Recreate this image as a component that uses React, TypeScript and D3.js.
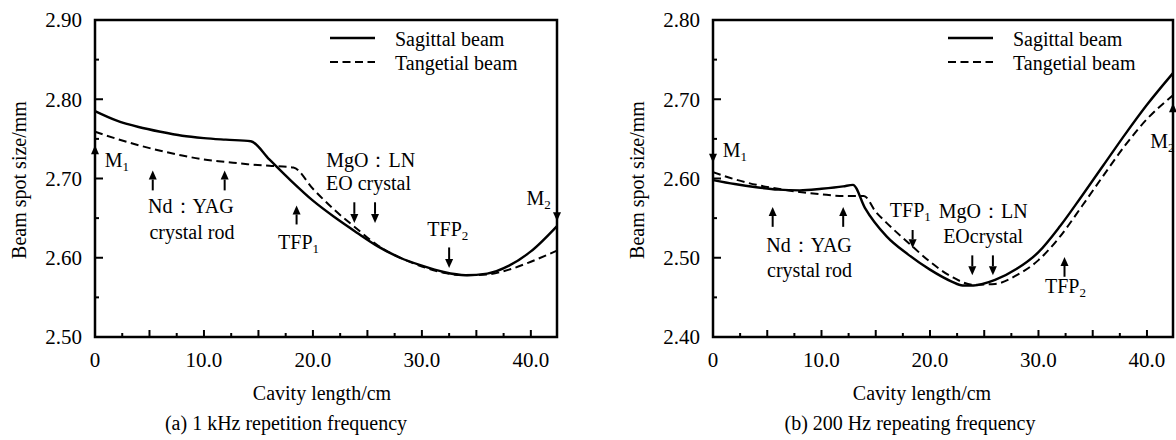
import * as d3 from 'd3'
import React from 'react'

// panel (a): 1 kHz
const cmA_sag = [0, 2, 4, 6, 8, 10, 12, 14.3, 16, 18, 20, 22, 24, 26, 28, 30, 32, 34, 36, 38, 40, 42.4]
const wA_sag = [2.785, 2.773, 2.765, 2.759, 2.754, 2.751, 2.749, 2.747, 2.724, 2.697, 2.672, 2.651, 2.632, 2.614, 2.600, 2.590, 2.582, 2.578, 2.580, 2.590, 2.608, 2.640]
const cmA_tan = [0, 2, 4, 6, 8, 10, 12, 14, 16, 18.2, 20, 22, 24, 26, 28, 30, 32, 34, 36, 38, 40, 42.4]
const wA_tan = [2.759, 2.750, 2.742, 2.735, 2.729, 2.724, 2.721, 2.718, 2.716, 2.714, 2.687, 2.660, 2.637, 2.615, 2.600, 2.589, 2.581, 2.578, 2.579, 2.585, 2.595, 2.609]

// panel (b): 200 Hz
const cmB_sag = [0, 2, 4, 6, 8, 10, 12, 12.9, 14, 16, 18, 20, 22, 23, 24, 26, 28, 30, 32, 34, 36, 38, 40, 42.4]
const wB_sag = [2.598, 2.593, 2.589, 2.586, 2.585, 2.587, 2.590, 2.592, 2.563, 2.527, 2.504, 2.485, 2.470, 2.465, 2.465, 2.472, 2.486, 2.507, 2.540, 2.578, 2.617, 2.656, 2.693, 2.733]
const cmB_tan = [0, 2, 4, 6, 8, 10, 12, 13.9, 15, 16, 18, 20, 22, 24, 26, 28, 30, 32, 34, 36, 38, 40, 42.4]
const wB_tan = [2.608, 2.599, 2.592, 2.587, 2.583, 2.580, 2.578, 2.578, 2.558, 2.544, 2.519, 2.495, 2.476, 2.466, 2.467, 2.478, 2.497, 2.527, 2.565, 2.604, 2.642, 2.675, 2.705]

const yTicksA = [2.5, 2.6, 2.7, 2.8, 2.9]
const yTicksB = [2.4, 2.5, 2.6, 2.7, 2.8]
const xLabels = [0, 10, 20, 30, 40]

// arrows: [cm, tail value, head value]
const arrowsA = [[0, 2.7127, 2.742], [5.3, 2.685, 2.710], [11.9, 2.685, 2.710], [18.5, 2.642, 2.666],
  [23.8, 2.670, 2.644], [25.7, 2.670, 2.644], [32.5, 2.613, 2.587], [42.4, 2.666, 2.646]]
const arrowsB = [[0, 2.651, 2.620], [5.5, 2.539, 2.564], [12.0, 2.539, 2.564], [18.4, 2.535, 2.512],
  [23.9, 2.503, 2.478], [25.8, 2.503, 2.478], [32.4, 2.476, 2.501], [42.4, 2.668, 2.695]]

// labels: [text, subscript, cm, value, anchor]
const labelsA = [['M', '1', 0.9, 2.714, 'start'], ['Nd：YAG', '', 8.8, 2.656, 'middle'], ['crystal rod', '', 8.9, 2.624, 'middle'],
  ['TFP', '1', 16.8, 2.611, 'start'], ['MgO：LN', '', 25.3, 2.715, 'middle'], ['EO crystal', '', 25.1, 2.685, 'middle'],
  ['TFP', '2', 30.5, 2.628, 'start'], ['M', '2', 39.6, 2.666, 'start']]
const labelsB = [['M', '1', 0.9, 2.627, 'start'], ['Nd：YAG', '', 8.85, 2.507, 'middle'], ['crystal rod', '', 8.9, 2.476, 'middle'],
  ['TFP', '1', 16.3, 2.551, 'start'], ['MgO：LN', '', 24.9, 2.550, 'middle'], ['EOcrystal', '', 24.9, 2.519, 'middle'],
  ['TFP', '2', 30.6, 2.456, 'start'], ['M', '2', 40.3, 2.638, 'start']]

const txt = {fontFamily: "'Liberation Serif', 'Times New Roman', Times, serif", fontSize: 20}
const tick = {...txt, fontSize: 21}

const Arrow = ({x, y1, y2}) => {
  const dir = y2 > y1 ? 1 : -1
  const headLen = 9
  return (
    <g>
      <line x1={x} x2={x} y1={y1} y2={y2 - dir * headLen} stroke="#000" strokeWidth={2} />
      <path d={`M${x - 4},${y2 - dir * headLen} L${x + 4},${y2 - dir * headLen} L${x},${y2} Z`} fill="#000" />
    </g>
  )
}

const Panel = ({x0, x1, yDomain, yTicks, sag, tan, arrows, labels, xTitleX, caption, captionX}) => {
  const top = 20, bottom = 337
  const x = d3.scaleLinear().domain([0, 42.4]).range([x0, x1])
  const y = d3.scaleLinear().domain(yDomain).range([bottom, top])
  const line = d3.line().x(d => x(d[0])).y(d => y(d[1])).curve(d3.curveMonotoneX)

  const xMajor = d3.range(0, 42, 5)
  const xMinor = d3.range(2.5, 42, 5)
  const yMinor = yTicks.slice(0, -1).map(v => v + 0.05)

  return (
    <g fill="#000">
      <path d={line(d3.zip(sag[0], sag[1]))} fill="none" stroke="#000" strokeWidth={2.4} />
      <path d={line(d3.zip(tan[0], tan[1]))} fill="none" stroke="#000" strokeWidth={2} strokeDasharray="8,4.5" />

      <rect x={x0} y={top} width={x1 - x0} height={bottom - top} fill="none" stroke="#000" strokeWidth={2.5} />
      {xMajor.map(v => <line key={'xm' + v} x1={x(v)} x2={x(v)} y1={bottom} y2={bottom - 7} stroke="#000" strokeWidth={2} />)}
      {xMinor.map(v => <line key={'xn' + v} x1={x(v)} x2={x(v)} y1={bottom} y2={bottom - 4} stroke="#000" strokeWidth={2} />)}
      {yTicks.map(v => <line key={'ym' + v} x1={x0} x2={x0 + 8} y1={y(v)} y2={y(v)} stroke="#000" strokeWidth={2} />)}
      {yMinor.map(v => <line key={'yn' + v} x1={x0} x2={x0 + 4} y1={y(v)} y2={y(v)} stroke="#000" strokeWidth={2} />)}

      {xLabels.map(v => <text key={'xl' + v} x={x(v)} y={bottom + 30} style={tick} textAnchor="middle">{v === 0 ? '0' : v.toFixed(1)}</text>)}
      {yTicks.map(v => <text key={'yl' + v} x={x0 - 13} y={y(v)} dy="0.35em" style={tick} textAnchor="end">{v.toFixed(2)}</text>)}

      <text x={xTitleX} y={400} style={txt} textAnchor="middle">Cavity length/cm</text>
      <text transform={`translate(${x0 - 69},180) rotate(-90)`} style={txt} textAnchor="middle">Beam spot size/mm</text>
      <text x={captionX} y={430} style={txt} textAnchor="middle">{caption}</text>

      <line x1={x0 + 235} x2={x0 + 280} y1={38} y2={38} stroke="#000" strokeWidth={2.6} />
      <line x1={x0 + 235} x2={x0 + 280} y1={62} y2={62} stroke="#000" strokeWidth={2} strokeDasharray="8,4.5" />
      <text x={x0 + 300} y={46} style={txt}>Sagittal beam</text>
      <text x={x0 + 300} y={70} style={txt}>Tangetial beam</text>

      {arrows.map((a, i) => <Arrow key={'ar' + i} x={x(a[0])} y1={y(a[1])} y2={y(a[2])} />)}
      {labels.map((l, i) => (
        <text key={'lb' + i} x={x(l[2])} y={y(l[3])} style={txt} textAnchor={l[4]}>
          {l[0]}{l[1] && <tspan style={{fontSize: 13}} dy={4}>{l[1]}</tspan>}
        </text>
      ))}
    </g>
  )
}

export default function App() {
  return (
    <svg width={1176} height={440} style={{position: 'absolute', left: 0, top: 0, background: '#fff'}}>
      <rect width={1176} height={440} fill="#fff" />
      <Panel x0={95} x1={557} yDomain={[2.5, 2.9]} yTicks={yTicksA}
        sag={[cmA_sag, wA_sag]} tan={[cmA_tan, wA_tan]} arrows={arrowsA} labels={labelsA}
        xTitleX={322} caption="(a) 1 kHz repetition frequency" captionX={286} />
      <Panel x0={713} x1={1173} yDomain={[2.4, 2.8]} yTicks={yTicksB}
        sag={[cmB_sag, wB_sag]} tan={[cmB_tan, wB_tan]} arrows={arrowsB} labels={labelsB}
        xTitleX={922} caption="(b) 200 Hz repeating frequency" captionX={910} />
    </svg>
  )
}
